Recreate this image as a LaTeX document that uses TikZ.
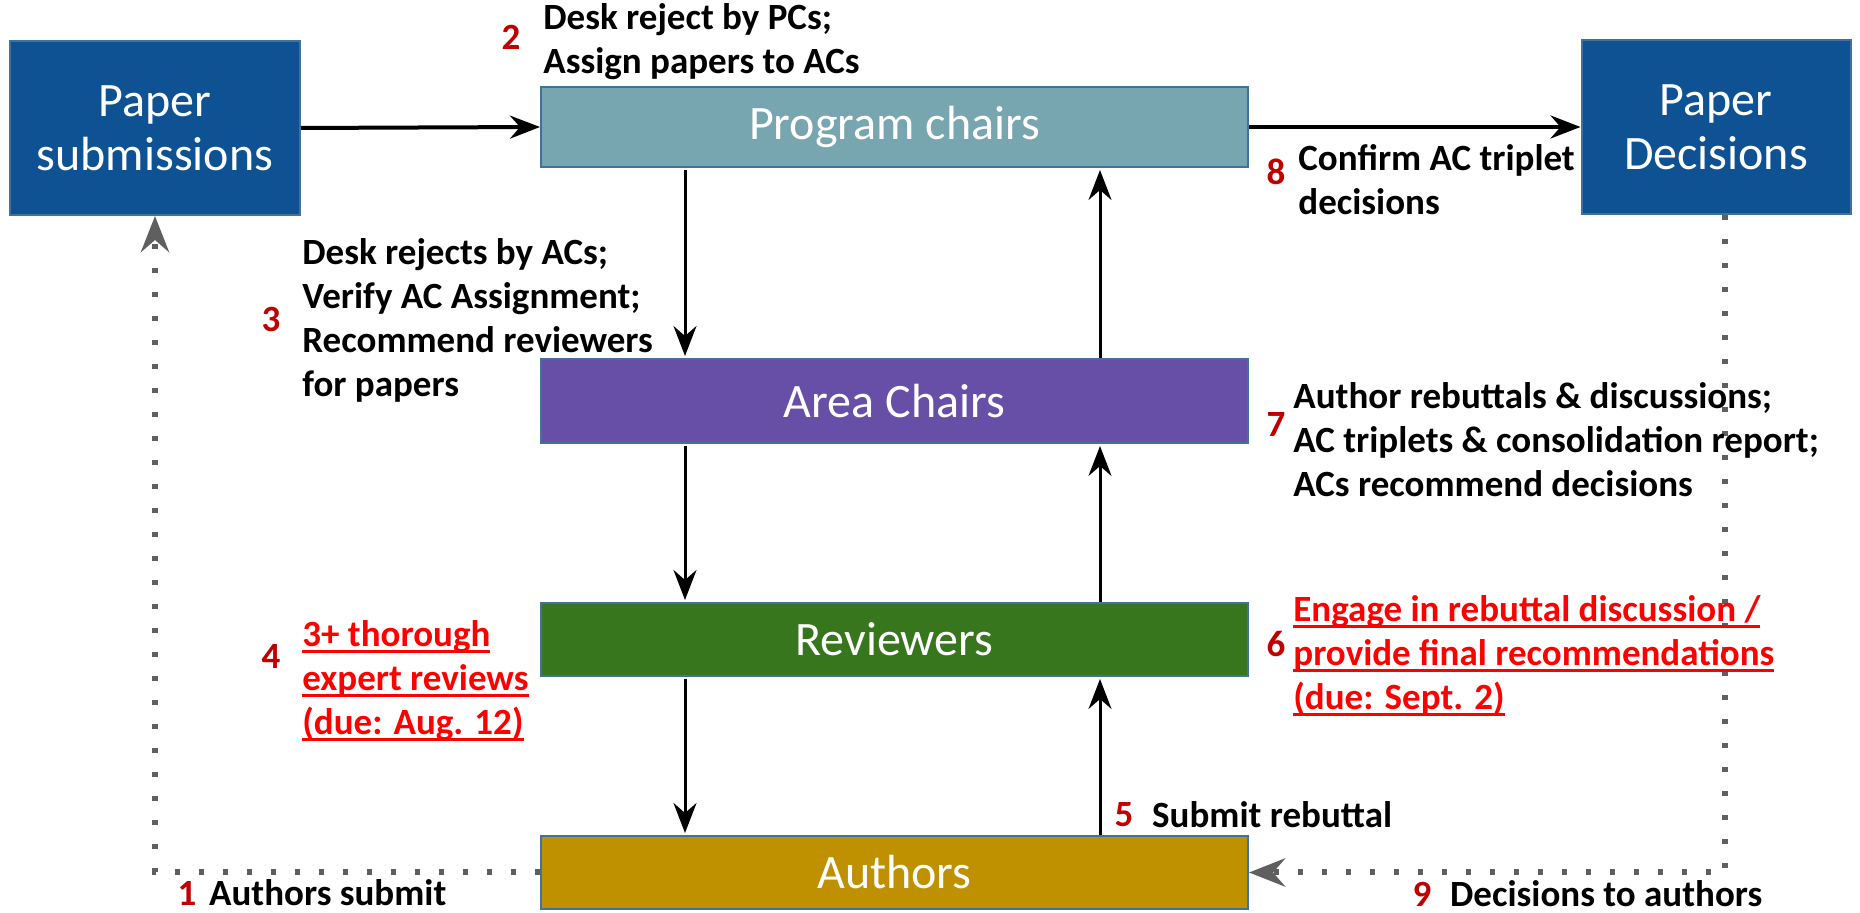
\documentclass[tikz,border=0pt]{standalone}
\usepackage{fontspec}
\setmainfont{Carlito}
\usepackage{xcolor}
\usepackage{tikz}
\usetikzlibrary{arrows.meta,positioning}
\definecolor{boxblue}{HTML}{0F5294}
\definecolor{edgeblue}{HTML}{41719C}
\definecolor{pcteal}{HTML}{78A6B0}
\definecolor{acpurple}{HTML}{674EA7}
\definecolor{revgreen}{HTML}{38761D}
\definecolor{authgold}{HTML}{BF9000}
\definecolor{stepred}{HTML}{C00000}
\definecolor{duered}{HTML}{FF0000}
\definecolor{dotgray}{HTML}{5F5F5F}
\newsavebox{\duebox}
\newcommand{\duetext}[1]{\sbox{\duebox}{#1}\rlap{\rule[-3.5pt]{\wd\duebox}{1.6pt}}\usebox{\duebox}}
\tikzset{
    role/.style={rectangle, draw=edgeblue, line width=1pt, text=white, font=\fontsize{24}{27}\selectfont, minimum width=353.5pt, inner sep=0pt},
    paperbox/.style={role, fill=boxblue, align=center, minimum height=87pt},
    note/.style={font=\bfseries\fontsize{18.5}{22}\selectfont, align=left, anchor=west, inner sep=0pt},
    stepnum/.style={font=\bfseries\fontsize{18.5}{22}\selectfont, text=stepred, inner sep=0pt},
    flow/.style={draw, line width=1.5pt, -{Stealth[length=15pt, width=11.5pt, inset=5pt]}},
    bigflow/.style={flow, line width=2pt},
    feedback/.style={draw=dotgray, line width=3pt, dash pattern=on 2.5pt off 9.5pt, -{Stealth[length=18pt, width=14pt, inset=6pt, fill=dotgray, sep=0pt]}}
}
\begin{document}
\begin{tikzpicture}[x=0.5pt, y=-0.5pt]
    \useasboundingbox (0,0) rectangle (1860,913);

    % Paper boxes
    \node [paperbox, minimum width=145pt] (subm) at (155,128) {Paper\\submissions};
    \node [paperbox, minimum width=134.5pt] (decis) at (1716,127) {Paper\\Decisions};

    % Roles
    \node [role, fill=pcteal, minimum height=40pt] (pc) at (894.5,127) {Program chairs};
    \node [role, fill=acpurple, minimum height=42pt] (ac) at (894.5,401) {Area Chairs};
    \node [role, fill=revgreen, minimum height=36.5pt] (rev) at (894.5,639.5) {Reviewers};
    \node [role, fill=authgold, minimum height=36.5pt] (auth) at (894.5,872.5) {Authors};

    % Columns of the vertical arrows
    \coordinate (down) at (685,0);
    \coordinate (up) at (1100,0);

    % Main flow
    \path [bigflow] (subm.east) -- (pc.west);
    \path [bigflow] (pc.east) -- (decis.west);
    \path [flow, shorten <=1pt, shorten >=1pt] (pc.south -| down) -- (ac.north -| down);
    \path [flow, shorten <=1pt, shorten >=1pt] (ac.south -| down) -- (rev.north -| down);
    \path [flow, shorten <=1pt, shorten >=1pt] (rev.south -| down) -- (auth.north -| down);
    \path [flow, shorten >=1pt] (auth.north -| up) -- (rev.south -| up);
    \path [flow, shorten >=1pt] (rev.north -| up) -- (ac.south -| up);
    \path [flow, shorten >=1pt] (ac.north -| up) -- (pc.south -| up);

    % Submission and notification
    \path [feedback] (auth.west) -| (subm.south);
    \path [feedback] ([xshift=4.5pt]decis.south) |- (auth.east);

    % Steps
    \node [stepnum] (n1) at (187,893) {1};
    \node [note, right=6pt of n1] (s1) {Authors submit};
    \node [stepnum] (n2) at (511,37) {2};
    \node [note] (s2) at (543,42) {Desk reject by PCs;\\Assign papers to ACs};
    \node [stepnum] (n3) at (271,320) {3};
    \node [note] (s3) at (302,320) {Desk rejects by ACs;\\Verify AC Assignment;\\Recommend reviewers\\for papers};
    \node [stepnum] (n4) at (271,656) {4};
    \node [note, text=duered] (s4) at (302,681) {\duetext{3+ thorough}\\\duetext{expert reviews}\\\duetext{(due: Aug. 12)}};
    \node [stepnum] (n5) at (1124,815) {5};
    \node [note, right=9pt of n5] (s5) {Submit rebuttal};
    \node [stepnum] (n6) at (1276,644) {6};
    \node [note, text=duered] (s6) at (1293,656) {\duetext{Engage in rebuttal discussion /}\\\duetext{provide final recommendations}\\\duetext{(due: Sept. 2)}};
    \node [stepnum] (n7) at (1276,425) {7};
    \node [note] (s7) at (1293,440) {Author rebuttals \& discussions;\\AC triplets \& consolidation report;\\ACs recommend decisions};
    \node [stepnum] (n8) at (1276,172) {8};
    \node [note] (s8) at (1298,180) {Confirm AC triplet\\decisions};
    \node [stepnum] (n9) at (1422,894) {9};
    \node [note, right=9pt of n9] (s9) {Decisions to authors};
\end{tikzpicture}
\end{document}
